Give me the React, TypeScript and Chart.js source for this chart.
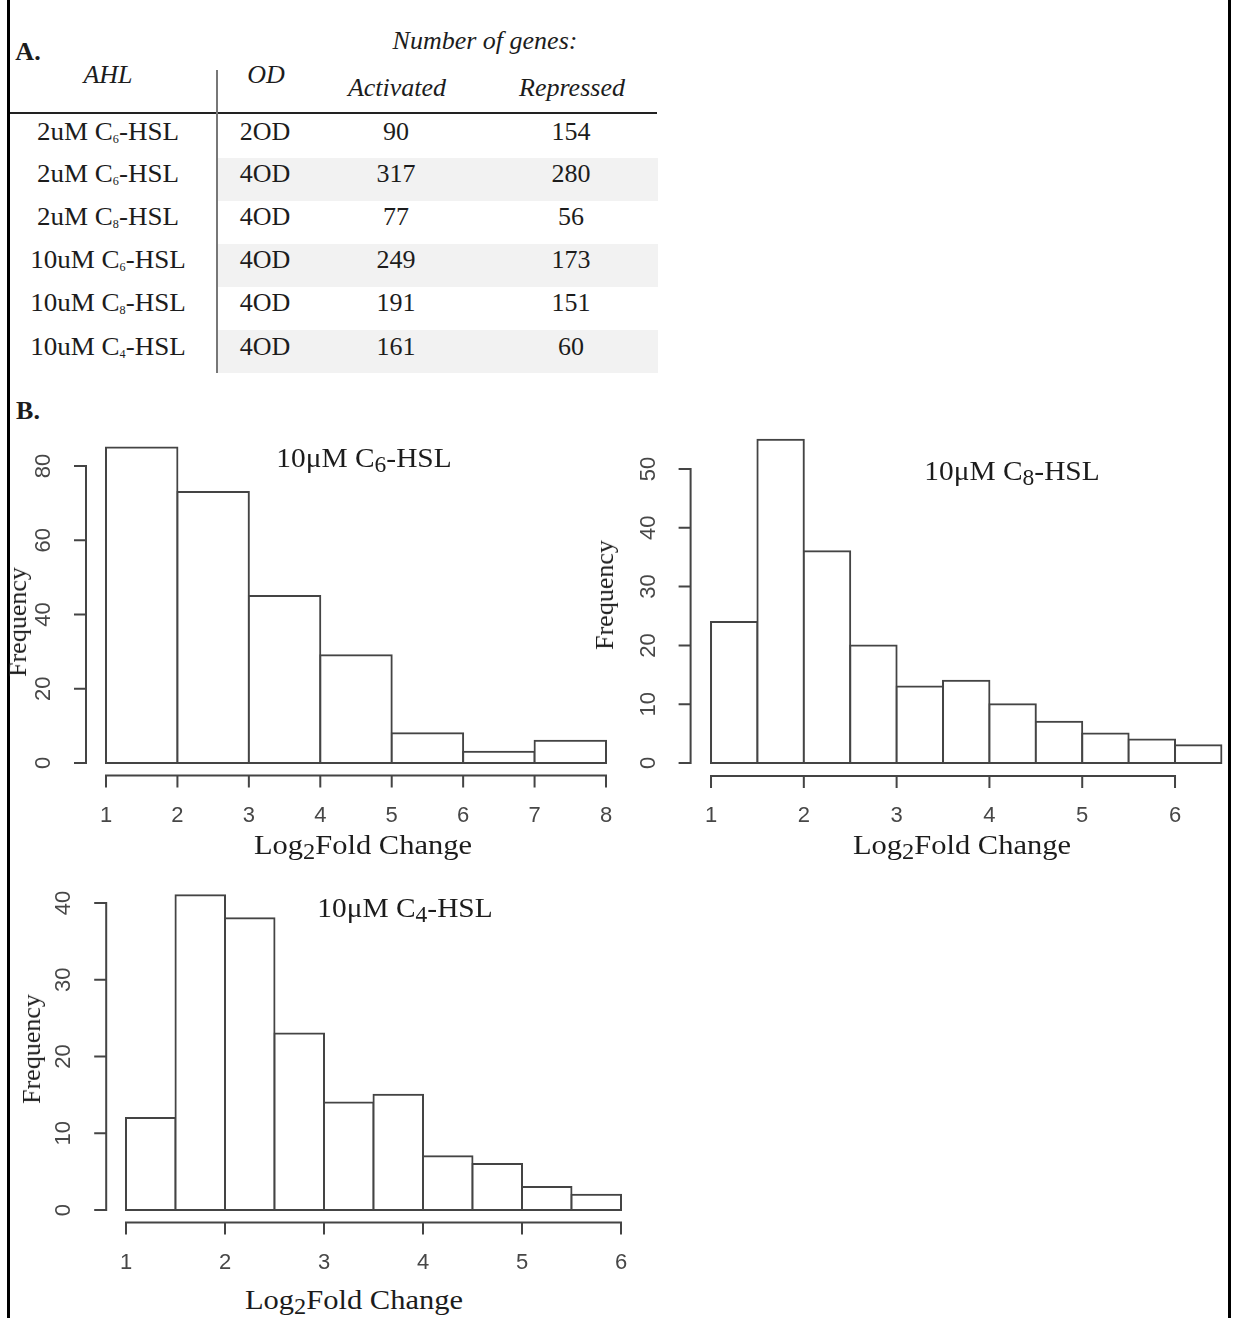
import React, { useEffect, useRef } from "react";
import { Chart, registerables } from "chart.js";

Chart.register(...registerables);

// ---------------- Data ----------------
// Table A
const tableAhlConc = ["2uM", "2uM", "2uM", "10uM", "10uM", "10uM"];
const tableAhlChain = ["6", "6", "8", "6", "8", "4"];
const tableOd = ["2OD", "4OD", "4OD", "4OD", "4OD", "4OD"];
const tableActivated = [90, 317, 77, 249, 191, 161];
const tableRepressed = [154, 280, 56, 173, 151, 60];

// Histogram 10uM C6-HSL (bin width 1)
const c6BinCenters = [1.5, 2.5, 3.5, 4.5, 5.5, 6.5, 7.5];
const c6Counts = [85, 73, 45, 29, 8, 3, 6];
const c6XTicks = [1, 2, 3, 4, 5, 6, 7, 8];
const c6YTicks = [0, 20, 40, 60, 80];

// Histogram 10uM C8-HSL (bin width 0.5)
const c8BinCenters = [1.25, 1.75, 2.25, 2.75, 3.25, 3.75, 4.25, 4.75, 5.25, 5.75, 6.25];
const c8Counts = [24, 55, 36, 20, 13, 14, 10, 7, 5, 4, 3];
const c8XTicks = [1, 2, 3, 4, 5, 6];
const c8YTicks = [0, 10, 20, 30, 40, 50];

// Histogram 10uM C4-HSL (bin width 0.5)
const c4BinCenters = [1.25, 1.75, 2.25, 2.75, 3.25, 3.75, 4.25, 4.75, 5.25, 5.75];
const c4Counts = [12, 41, 38, 23, 14, 15, 7, 6, 3, 2];
const c4XTicks = [1, 2, 3, 4, 5, 6];
const c4YTicks = [0, 10, 20, 30, 40];

// ---------------- Styles ----------------
const SERIF = '"Liberation Serif", "Times New Roman", serif';
const SANS = '"Liberation Sans", Arial, sans-serif';
const LINE = "#444444";
const TICK_TEXT = "#474747";
const TEXT = "#1c1c1c";
const TICK_LEN = 11;

const rAxesPlugin = {
  id: "rAxes",
  afterDraw(chart: any, _args: any, opts: any) {
    const { ctx, chartArea } = chart;
    const xs = chart.scales.x;
    const ys = chart.scales.y;
    const xT: number[] = opts.xTicks;
    const yT: number[] = opts.yTicks;
    ctx.save();
    ctx.strokeStyle = LINE;
    ctx.lineWidth = 2;
    ctx.lineCap = "square";
    // y axis
    const ax = chartArea.left;
    ctx.beginPath();
    ctx.moveTo(ax, ys.getPixelForValue(yT[0]));
    ctx.lineTo(ax, ys.getPixelForValue(yT[yT.length - 1]));
    yT.forEach((v) => {
      const py = ys.getPixelForValue(v);
      ctx.moveTo(ax, py);
      ctx.lineTo(ax - TICK_LEN, py);
    });
    // x axis
    const ay = chartArea.bottom;
    ctx.moveTo(xs.getPixelForValue(xT[0]), ay);
    ctx.lineTo(xs.getPixelForValue(xT[xT.length - 1]), ay);
    xT.forEach((v) => {
      const px = xs.getPixelForValue(v);
      ctx.moveTo(px, ay);
      ctx.lineTo(px, ay + TICK_LEN);
    });
    ctx.stroke();

    ctx.fillStyle = TICK_TEXT;
    ctx.font = `22px ${SANS}`;
    ctx.textAlign = "center";
    ctx.textBaseline = "middle";
    yT.forEach((v) => {
      const py = ys.getPixelForValue(v);
      ctx.save();
      ctx.translate(ax - 42, py);
      ctx.rotate(-Math.PI / 2);
      ctx.fillText(String(v), 0, 0);
      ctx.restore();
    });
    xT.forEach((v) => {
      const px = xs.getPixelForValue(v);
      ctx.fillText(String(v), px, ay + 40);
    });
    ctx.restore();
  },
};

type Box = { left: number; top: number; width: number; height: number };
type Area = { left: number; top: number; right: number; bottom: number };

function Hist(props: {
  centers: number[];
  counts: number[];
  xTicks: number[];
  yTicks: number[];
  xRange: [number, number];
  yRange: [number, number];
  box: Box;
  area: Area;
}) {
  const ref = useRef<HTMLCanvasElement>(null);
  const { centers, counts, xTicks, yTicks, xRange, yRange, box, area } = props;
  useEffect(() => {
    const chart = new Chart(ref.current as HTMLCanvasElement, {
      type: "bar",
      data: {
        datasets: [
          {
            data: centers.map((x, i) => ({ x, y: counts[i] })),
            backgroundColor: "#ffffff",
            borderColor: LINE,
            borderWidth: 2,
            borderSkipped: false,
            inflateAmount: 1,
            barPercentage: 1,
            categoryPercentage: 1,
            clip: false,
          } as any,
        ],
      },
      options: {
        animation: false,
        responsive: false,
        events: [],
        layout: {
          padding: {
            left: area.left - box.left,
            right: box.left + box.width - area.right,
            top: area.top - box.top,
            bottom: box.top + box.height - area.bottom,
          },
        },
        plugins: {
          legend: { display: false },
          tooltip: { enabled: false },
          rAxes: { xTicks, yTicks },
        } as any,
        scales: {
          x: { type: "linear", min: xRange[0], max: xRange[1], offset: false, display: false },
          y: { type: "linear", min: yRange[0], max: yRange[1], display: false },
        },
      },
      plugins: [rAxesPlugin],
    });
    return () => chart.destroy();
  }, []);
  return (
    <canvas
      ref={ref}
      width={box.width}
      height={box.height}
      style={{ position: "absolute", left: box.left, top: box.top, width: box.width, height: box.height }}
    />
  );
}

function Txt(props: {
  x: number;
  y: number;
  size?: number;
  italic?: boolean;
  bold?: boolean;
  rotate?: boolean;
  sx?: number;
  color?: string;
  children: React.ReactNode;
}) {
  const { x, y, size = 26, italic, bold, rotate, sx = 1, color = TEXT, children } = props;
  return (
    <div
      style={{
        position: "absolute",
        left: x,
        top: y,
        transform: `translate(-50%, -50%)${rotate ? " rotate(-90deg)" : ""} scaleX(${sx})`,
        fontFamily: SERIF,
        fontSize: size,
        fontStyle: italic ? "italic" : "normal",
        fontWeight: bold ? "bold" : "normal",
        whiteSpace: "nowrap",
        lineHeight: 1,
        color,
      }}
    >
      {children}
    </div>
  );
}

const Sub = ({ children, scale = 0.8 }: { children: React.ReactNode; scale?: number }) => (
  <span style={{ fontSize: `${scale}em`, position: "relative", top: "0.22em" }}>{children}</span>
);

const rowCenters = [132, 174, 217, 260, 303, 347];
const rowBandTop = [115, 158, 201, 244, 287, 330];

export default function App() {
  return (
    <div
      style={{
        position: "absolute",
        left: 0,
        top: 0,
        width: 1233,
        height: 1318,
        background: "#ffffff",
        overflow: "hidden",
      }}
    >
      {/* frame */}
      <div style={{ position: "absolute", left: 7, top: 0, width: 3, height: 1318, background: "#000" }} />
      <div style={{ position: "absolute", left: 1228, top: 0, width: 3, height: 1318, background: "#000" }} />

      {/* ---------- Table A ---------- */}
      {rowBandTop.map((t, i) =>
        i % 2 === 1 ? (
          <div
            key={"band" + i}
            style={{ position: "absolute", left: 218, top: t, width: 440, height: 43, background: "#f2f2f2" }}
          />
        ) : null
      )}
      <div style={{ position: "absolute", left: 10, top: 112, width: 647, height: 2, background: "#222" }} />
      <div style={{ position: "absolute", left: 216, top: 70, width: 2, height: 303, background: "#777" }} />

      <Txt x={28} y={52} bold>A.</Txt>
      <Txt x={485} y={41} italic>Number of genes:</Txt>
      <Txt x={108} y={75} italic>AHL</Txt>
      <Txt x={266} y={75} italic>OD</Txt>
      <Txt x={397} y={88} italic>Activated</Txt>
      <Txt x={572} y={88} italic>Repressed</Txt>

      {rowCenters.map((cy, i) => (
        <React.Fragment key={"row" + i}>
          <Txt x={108} y={cy} sx={1.04}>
            {tableAhlConc[i]} C<Sub scale={0.45}>{tableAhlChain[i]}</Sub>-HSL
          </Txt>
          <Txt x={265} y={cy}>{tableOd[i]}</Txt>
          <Txt x={396} y={cy}>{tableActivated[i]}</Txt>
          <Txt x={571} y={cy}>{tableRepressed[i]}</Txt>
        </React.Fragment>
      ))}

      {/* ---------- Panel B ---------- */}
      <Txt x={28} y={411} bold>B.</Txt>

      <Hist
        centers={c6BinCenters}
        counts={c6Counts}
        xTicks={c6XTicks}
        yTicks={c6YTicks}
        xRange={[0.72, 8.28]}
        yRange={[-3.4, 88.4]}
        box={{ left: 0, top: 400, width: 640, height: 440 }}
        area={{ left: 86, top: 434.8, right: 626, bottom: 775.6 }}
      />
      <Hist
        centers={c8BinCenters}
        counts={c8Counts}
        xTicks={c8XTicks}
        yTicks={c8YTicks}
        xRange={[0.78, 6.6]}
        yRange={[-2.2, 57.2]}
        box={{ left: 600, top: 400, width: 633, height: 440 }}
        area={{ left: 690.6, top: 426.7, right: 1230.7, bottom: 775.9 }}
      />
      <Hist
        centers={c4BinCenters}
        counts={c4Counts}
        xTicks={c4XTicks}
        yTicks={c4YTicks}
        xRange={[0.8, 6.2]}
        yRange={[-1.64, 42.64]}
        box={{ left: 0, top: 860, width: 660, height: 420 }}
        area={{ left: 106.2, top: 882.7, right: 640.8, bottom: 1222.6 }}
      />

      {/* chart titles */}
      <Txt x={364} y={458} size={28} sx={1.05}>
        10μM C<Sub>6</Sub>-HSL
      </Txt>
      <Txt x={1012} y={471} size={28} sx={1.05}>
        10μM C<Sub>8</Sub>-HSL
      </Txt>
      <Txt x={405} y={908} size={28} sx={1.05}>
        10μM C<Sub>4</Sub>-HSL
      </Txt>

      {/* axis titles */}
      <Txt x={363} y={845} size={28} sx={1.09}>
        Log<Sub>2</Sub>Fold Change
      </Txt>
      <Txt x={962} y={845} size={28} sx={1.09}>
        Log<Sub>2</Sub>Fold Change
      </Txt>
      <Txt x={354} y={1300} size={28} sx={1.09}>
        Log<Sub>2</Sub>Fold Change
      </Txt>
      <Txt x={18} y={622} rotate>Frequency</Txt>
      <Txt x={605} y={595} rotate>Frequency</Txt>
      <Txt x={32} y={1049} rotate>Frequency</Txt>
    </div>
  );
}
